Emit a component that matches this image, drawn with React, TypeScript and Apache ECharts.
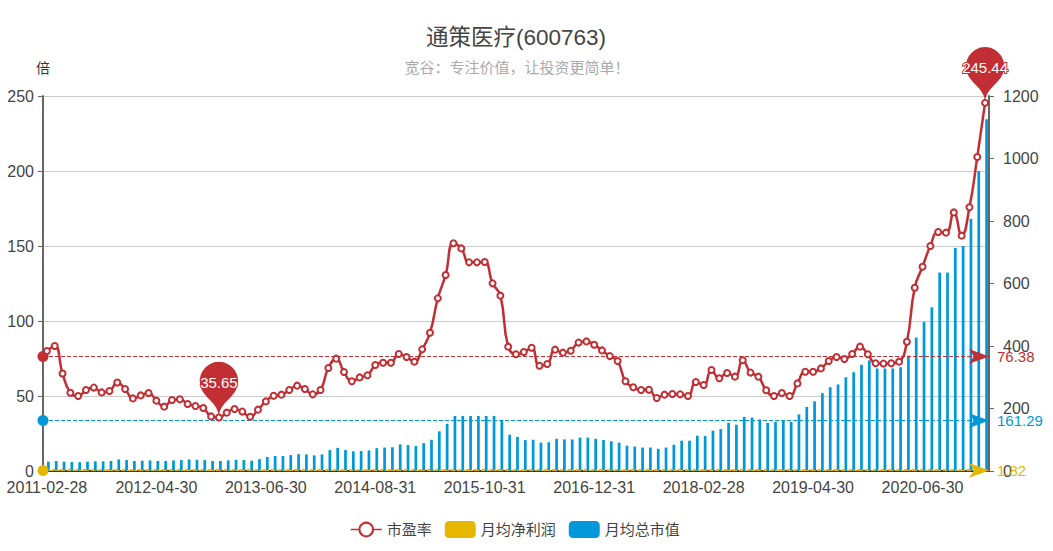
import React, { useEffect, useRef } from "react";
import * as echarts from "echarts";

const dates = [
  "2011-02-28","2011-03-31","2011-04-30","2011-05-31","2011-06-30","2011-07-31","2011-08-31","2011-09-30","2011-10-31","2011-11-30","2011-12-31",
  "2012-01-31","2012-02-29","2012-03-31","2012-04-30","2012-05-31","2012-06-30","2012-07-31","2012-08-31","2012-09-30","2012-10-31","2012-11-30","2012-12-31",
  "2013-01-31","2013-02-28","2013-03-31","2013-04-30","2013-05-31","2013-06-30","2013-07-31","2013-08-31","2013-09-30","2013-10-31","2013-11-30","2013-12-31",
  "2014-01-31","2014-02-28","2014-03-31","2014-04-30","2014-05-31","2014-06-30","2014-07-31","2014-08-31","2014-09-30","2014-10-31","2014-11-30","2014-12-31",
  "2015-01-31","2015-02-28","2015-03-31","2015-04-30","2015-05-31","2015-06-30","2015-07-31","2015-08-31","2015-09-30","2015-10-31","2015-11-30","2015-12-31",
  "2016-01-31","2016-02-29","2016-03-31","2016-04-30","2016-05-31","2016-06-30","2016-07-31","2016-08-31","2016-09-30","2016-10-31","2016-11-30","2016-12-31",
  "2017-01-31","2017-02-28","2017-03-31","2017-04-30","2017-05-31","2017-06-30","2017-07-31","2017-08-31","2017-09-30","2017-10-31","2017-11-30","2017-12-31",
  "2018-01-31","2018-02-28","2018-03-31","2018-04-30","2018-05-31","2018-06-30","2018-07-31","2018-08-31","2018-09-30","2018-10-31","2018-11-30","2018-12-31",
  "2019-01-31","2019-02-28","2019-03-31","2019-04-30","2019-05-31","2019-06-30","2019-07-31","2019-08-31","2019-09-30","2019-10-31","2019-11-30","2019-12-31",
  "2020-01-31","2020-02-29","2020-03-31","2020-04-30","2020-05-31","2020-06-30","2020-07-31","2020-08-31","2020-09-30","2020-10-31","2020-11-30","2020-12-31",
  "2021-01-31","2021-02-28",
];

const peRatio = [
  80, 83.3, 65, 52.2, 50, 54, 55.6, 52.4, 53.3, 59,
  54.7, 48.4, 50.4, 52, 46.9, 42.9, 47.3, 47.8, 44.7, 43.3,
  42, 36.4, 35.65, 38.9, 41.3, 39.6, 36.2, 40.9, 46.4, 50.2,
  50.9, 54, 56.9, 54.7, 51.1, 54, 68.7, 74.9, 66, 59.8,
  62.4, 63.8, 70.7, 72.2, 72.2, 78, 76, 72.9, 81.1, 92.2,
  115.1, 130.7, 151.8, 148.4, 139.1, 139.1, 139.3, 125.1, 116.9, 82.9,
  77.8, 79.3, 82.2, 70.2, 71.3, 80.9, 78.9, 80.2, 85.6, 86.4,
  84.2, 80.4, 76.6, 73.3, 59.8, 55.8, 54, 54.2, 48.7, 50.9,
  51.3, 51.1, 50, 59.3, 57.3, 67.3, 61.8, 65.3, 62.9, 73.8,
  65.6, 62.9, 53.8, 50, 52, 50, 58.4, 66.2, 66.2, 68.4,
  73.3, 76, 74.7, 78, 82.9, 77.8, 71.8, 71.6, 71.8, 72.9,
  86.2, 122.2, 136.2, 150, 159.3, 158.9, 172.4, 156.9, 175.8, 209.3,
  245.44,
];

const marketCap = [
  30, 32, 30, 29, 28, 30, 31, 31, 32, 37,
  35, 32, 33, 34, 32, 32, 34, 35, 37, 36,
  35, 32, 32, 34, 36, 35, 33, 38, 45, 48,
  48, 51, 54, 53, 50, 53, 67, 74, 67, 63,
  64, 66, 73, 75, 76, 85, 83, 80, 89, 100,
  127, 151, 176, 176, 176, 176, 176, 176, 164, 116,
  109, 99, 100, 91, 92, 103, 101, 101, 107, 107,
  103, 99, 95, 91, 81, 78, 75, 75, 71, 75,
  84, 97, 97, 113, 112, 129, 134, 154, 148, 173,
  171, 165, 154, 157, 162, 157, 181, 205, 223, 249,
  268, 277, 300, 316, 340, 354, 328, 328, 328, 332,
  369, 427, 477, 524, 635, 635, 714, 720, 807, 960,
  1126,
];

const netProfit = [
  1, 1, 1, 1, 1, 1, 1, 1, 1, 1,
  1, 1, 1, 1, 1, 1, 1, 1, 1, 1,
  1, 1, 1, 1, 1, 1, 1, 1, 1, 1,
  1, 1, 1, 1, 1, 1, 1, 1, 1, 1,
  1, 1, 1, 1, 1, 1, 1, 1, 1, 1,
  2, 2, 2, 2, 2, 2, 2, 2, 2, 2,
  2, 2, 2, 2, 2, 2, 2, 2, 2, 2,
  2, 2, 2, 2, 2, 2, 2, 2, 2, 2,
  2, 2, 2, 2, 2, 2, 2, 2, 2, 2,
  2, 2, 2, 2, 2, 2, 2, 2, 2, 2,
  3, 3, 3, 3, 3, 3, 3, 3, 3, 3,
  3, 3, 3, 3, 3, 3, 3, 3, 3, 3,
  3,
];

const averagePe = 76.38;
const averageCap = 161.29;
const averageProfit = 1.82;

const RED = "#c12e34";
const YELLOW = "#e6b600";
const BLUE = "#0098d9";
const FONT = "'Liberation Sans', 'Noto Sans CJK SC', sans-serif";
const INK = "#444";

function avgLine(value: number, color: string) {
  return {
    silent: true,
    symbol: ["circle", "arrow"],
    symbolSize: [11, 20],
    label: { position: "end", color, fontSize: 15, distance: 8, fontFamily: FONT },
    lineStyle: { color, type: "dashed", width: 1 },
    data: [{ yAxis: value }],
  };
}

export default function App() {
  const ref = useRef<HTMLDivElement>(null);
  useEffect(() => {
    const chart = echarts.init(ref.current!, undefined, { renderer: "svg" });
    chart.setOption({
      animation: false,
      backgroundColor: "#fff",
      textStyle: { fontFamily: FONT },
      color: [RED, YELLOW, BLUE],
      title: [
        { text: "通策医疗(600763)", left: 511, top: 21, textAlign: "center", textStyle: { fontSize: 22.5, fontWeight: "normal", color: INK, fontFamily: FONT } },
        { text: "宽谷：专注价值，让投资更简单！", left: 512, top: 55, textAlign: "center", textStyle: { fontSize: 15, fontWeight: "normal", color: "#aaa", fontFamily: FONT } },
      ],
      legend: {
        bottom: 8,
        left: 345,
        itemWidth: 31,
        itemHeight: 17,
        itemGap: 13,
        lineStyle: { width: 1.5 },
        textStyle: { fontSize: 15, color: INK, fontFamily: FONT },
        data: ["市盈率", "月均净利润", "月均总市值"],
      },
      grid: { left: 43, right: 64, top: 96, bottom: 80 },
      xAxis: {
        type: "category",
        data: dates,
        boundaryGap: true,
        axisLine: { lineStyle: { color: "#333", width: 2 } },
        axisTick: { alignWithLabel: true, interval: (i: number) => i % 14 === 7, length: 5, lineStyle: { color: "#666" } },
        axisLabel: { interval: 13, fontSize: 16, color: INK, fontFamily: FONT, margin: 8 },
      },
      yAxis: [
        {
          type: "value",
          name: "倍",
          nameGap: 21,
          nameTextStyle: { color: "#333", fontSize: 14, fontFamily: FONT },
          min: 0,
          max: 250,
          interval: 50,
          axisLine: { show: true, lineStyle: { color: "#666", width: 2 } },
          axisTick: { show: true, length: 5, lineStyle: { color: "#666" } },
          axisLabel: { fontSize: 16, color: INK, fontFamily: FONT, margin: 9 },
          splitLine: { show: true, lineStyle: { color: "#ccc", width: 1 } },
        },
        {
          type: "value",
          min: 0,
          max: 1200,
          interval: 200,
          axisLine: { show: true, lineStyle: { color: "#666", width: 2 } },
          axisTick: { show: true, length: 5, lineStyle: { color: "#666" } },
          axisLabel: { fontSize: 16, color: INK, fontFamily: FONT, margin: 14, formatter: (v: number) => String(v) },
          splitLine: { show: false },
        },
      ],
      series: [
        {
          name: "市盈率",
          type: "line",
          yAxisIndex: 0,
          data: peRatio,
          smooth: true,
          symbol: "emptyCircle",
          symbolSize: 6,
          showSymbol: true,
          showAllSymbol: true,
          z: 5,
          lineStyle: { width: 2.5, color: RED },
          itemStyle: { color: RED, borderWidth: 1 },
          markPoint: {
            symbol: "pin",
            symbolSize: 64,
            itemStyle: { color: RED },
            label: { color: "#fff", fontSize: 15, fontFamily: FONT, textBorderColor: RED, textBorderWidth: 2, offset: [0, -2] },
            data: [
              { type: "max", name: "最大值" },
              { type: "min", name: "最小值" },
            ],
          },
          markLine: avgLine(averagePe, RED),
        },
        {
          name: "月均净利润",
          type: "bar",
          yAxisIndex: 1,
          data: netProfit,
          barMinHeight: 2,
          itemStyle: { color: YELLOW },
          markLine: avgLine(averageProfit, YELLOW),
        },
        {
          name: "月均总市值",
          type: "bar",
          yAxisIndex: 1,
          data: marketCap,
          itemStyle: { color: BLUE },
          markLine: avgLine(averageCap, BLUE),
        },
      ],
    });
    return () => chart.dispose();
  }, []);
  return <div ref={ref} style={{ position: "fixed", left: 0, top: 0, width: 1053, height: 551 }} />;
}
